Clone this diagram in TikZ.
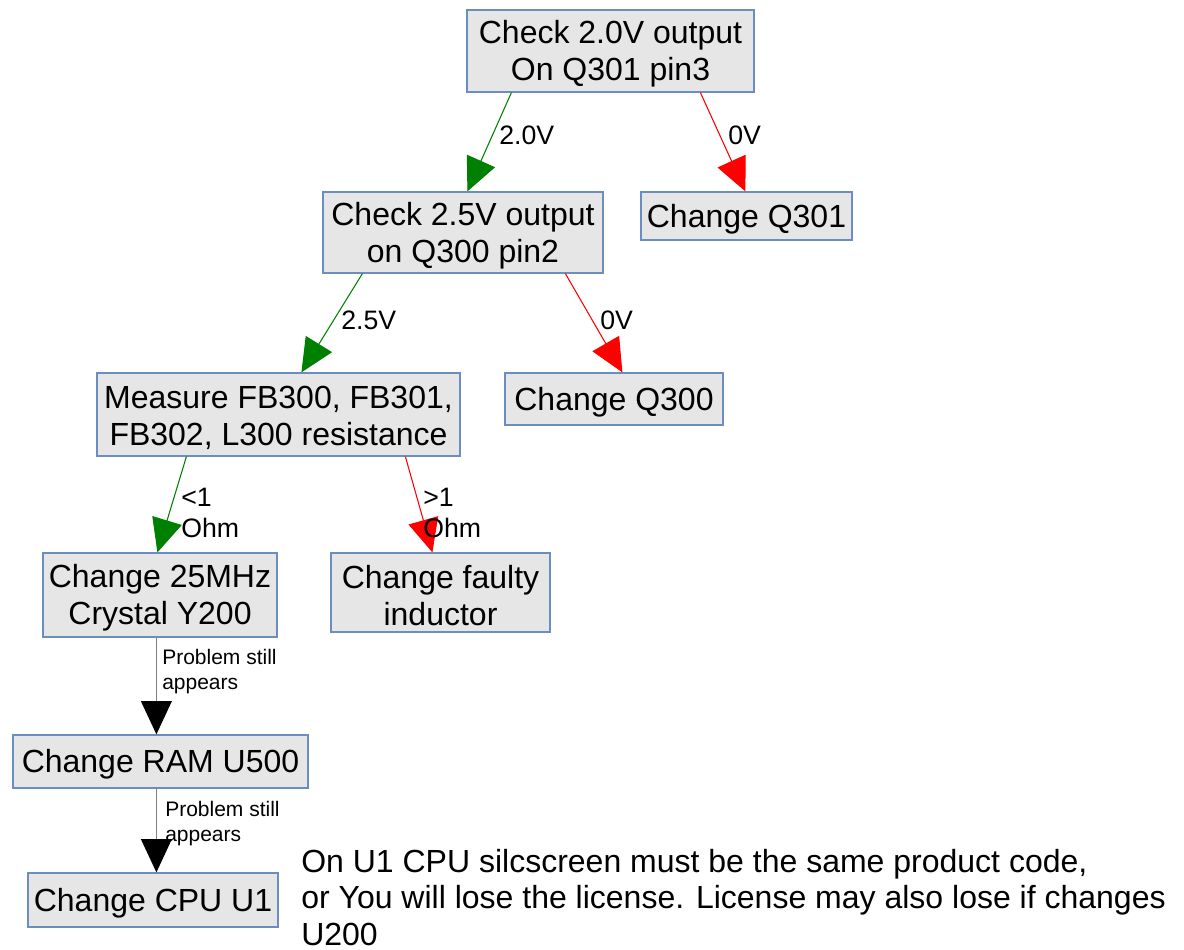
\documentclass[tikz,border=0pt]{standalone}
\usepackage{fontspec}
\setmainfont{Liberation Sans}
\usetikzlibrary{arrows.meta,calc}
\definecolor{boxfill}{HTML}{E6E6E6}
\definecolor{boxdraw}{HTML}{6C8EBF}
\definecolor{okgreen}{HTML}{008000}
\newcommand\topstrut{\rule{0pt}{22pt}}
\begin{document}
\begin{tikzpicture}[x=0.75pt,y=-0.75pt,
  box/.style={draw=boxdraw, fill=boxfill, line width=0.9pt, align=center, inner sep=0pt,
    font=\fontsize{24}{27.75}\selectfont},
  lbl/.style={anchor=west, inner sep=0pt, align=left, font=\fontsize{20}{23.25}\selectfont},
  slbl/.style={anchor=west, inner sep=0pt, align=left, font=\fontsize{15.75}{18.75}\selectfont},
  yes/.style={draw=okgreen, line width=0.8pt, -{Triangle[length=25pt,width=23pt,color=okgreen]}},
  no/.style={draw=red, line width=0.8pt, -{Triangle[length=25pt,width=23pt,color=red]}},
  still/.style={draw=gray, line width=1.3pt, -{Triangle[length=25pt,width=23pt,color=black]}}]
\useasboundingbox (0,0) rectangle (1184,949);

\node[box, minimum width=215.25pt, minimum height=61.5pt] (b1) at (610.5,51) {\topstrut Check 2.0V output\\On Q301 pin3};
\node[box, minimum width=210pt, minimum height=60.75pt] (b2) at (463,232.5) {\topstrut Check 2.5V output\\on Q300 pin2};
\node[box, minimum width=158.25pt, minimum height=36pt] (b3) at (746.5,216) {\topstrut Change Q301};
\node[box, minimum width=272.25pt, minimum height=62.25pt] (b4) at (278.5,414.5) {\topstrut Measure FB300, FB301,\\FB302, L300 resistance};
\node[box, minimum width=163.5pt, minimum height=39pt] (b5) at (614,399) {\topstrut Change Q300};
\node[box, minimum width=175.5pt, minimum height=63pt] (b6) at (160,595) {\topstrut Change 25MHz\\Crystal Y200};
\node[box, minimum width=164.25pt, minimum height=59.25pt] (b7) at (440.5,592.5) {\topstrut Change faulty\\inductor};
\node[box, minimum width=221.25pt, minimum height=39.75pt] (b8) at (160.5,761.5) {\topstrut Change RAM U500};
\node[box, minimum width=187.5pt, minimum height=40.5pt] (b9) at (153,900) {\topstrut Change CPU U1};

\draw[yes] ($(b1.south west)+(45,0)$) -- ($(b2.north west)+(145,0)$);
\draw[no] ($(b1.south west)+(234,0)$) -- ($(b3.north west)+(105,0)$);
\draw[yes] ($(b2.south west)+(40,0)$) -- ($(b4.north west)+(205,0)$);
\draw[no] ($(b2.south west)+(243,0)$) -- ($(b5.north west)+(118,0)$);
\draw[yes] ($(b4.south west)+(90,0)$) -- ($(b6.north west)+(115,0)$);
\draw[no] ($(b4.south west)+(309,0)$) -- ($(b7.north west)+(102,0)$);
\draw[still] ($(b6.south west)+(114,0)$) -- ($(b8.north west)+(144,0)$);
\draw[still] ($(b8.south west)+(144,0)$) -- ($(b9.north west)+(129,0)$);

\node[lbl] (l1) at (499,135) {2.0V};
\node[lbl] (l2) at (728,135) {0V};
\node[lbl] (l3) at (341,320) {2.5V};
\node[lbl] (l4) at (600,320) {0V};
\node[lbl] (l5) at (181,512.5) {<1\\Ohm};
\node[lbl] (l6) at (423,512.5) {>1\\Ohm};
\node[slbl] (l7) at (162,671.5) {Problem still\\appears};
\node[slbl] (l8) at (165,824) {Problem still\\appears};

\node[anchor=west, inner sep=0pt, align=left, font=\fontsize{24}{27.4}\selectfont] (note) at (301,897.5)
  {On U1 CPU silcscreen must be the same product code,\\or You will lose the license. License may also lose if changes\\U200};
\end{tikzpicture}
\end{document}
